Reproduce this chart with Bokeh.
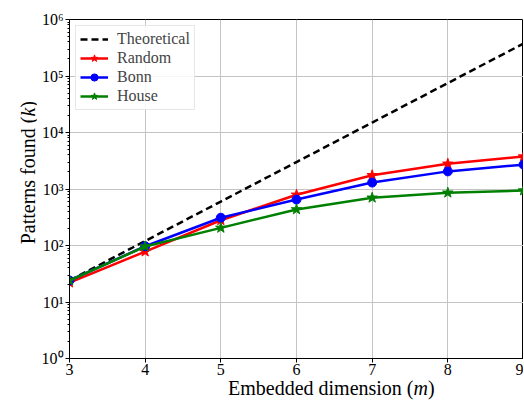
from bokeh.plotting import figure
from bokeh.models import FixedTicker, Legend, LegendItem, Div
from bokeh.layouts import row, column
from bokeh.embed import file_html
from bokeh.resources import INLINE

# ---- data ----
m_values = [3, 4, 5, 6, 7, 8, 9]
theoretical = [24, 120, 600, 3000, 15000, 75000, 375000]
random_k = [22, 78, 280, 790, 1750, 2800, 3750]
bonn_k = [24, 97, 310, 650, 1300, 2050, 2700]
house_k = [24, 96, 205, 435, 700, 860, 940]

x_ticks = [3, 4, 5, 6, 7, 8, 9]
y_ticks = [1, 10, 100, 1000, 10000, 100000, 1000000]
y_tick_labels = ["10⁰", "10¹", "10²", "10³", "10⁴", "10⁵", "10⁶"]

FONT = "Liberation Serif"

p = figure(width=487, height=382, y_axis_type="log",
           x_range=(3, 9), y_range=(1, 1e6),
           output_backend="svg", toolbar_location=None, title=None,
           min_border_left=33, min_border_right=0,
           min_border_top=19, min_border_bottom=24)

p.background_fill_color = "white"
p.border_fill_color = "white"
p.outline_line_color = "black"
p.outline_line_width = 1

# axes
minor = [k * d for d in y_ticks[:-1] for k in range(2, 10)]
p.yaxis.ticker = FixedTicker(ticks=y_ticks, minor_ticks=minor)
p.xaxis.ticker = FixedTicker(ticks=x_ticks)
p.yaxis.major_label_overrides = {float(t): lab for t, lab in zip(y_ticks, y_tick_labels)}

for ax in (p.xaxis[0], p.yaxis[0]):
    ax.axis_line_color = "black"
    ax.major_tick_line_color = "black"
    ax.minor_tick_line_color = "black"
    ax.major_tick_in = 0
    ax.major_tick_out = 4
    ax.minor_tick_in = 0
    ax.minor_tick_out = 2
    ax.major_label_text_font = FONT
    ax.major_label_text_font_size = "16px"
    ax.major_label_text_color = "black"
    ax.major_label_standoff = 2
p.xaxis.minor_tick_out = 0
p.xaxis.major_label_standoff = 1

p.xgrid.ticker = FixedTicker(ticks=x_ticks)
p.ygrid.ticker = FixedTicker(ticks=y_ticks)
p.grid.grid_line_color = "#c4c4c4"
p.grid.grid_line_width = 1

# lines
r_t = p.line(m_values, theoretical, line_color="black", line_width=2.5, line_dash="7 4")
r_rl = p.line(m_values, random_k, line_color="red", line_width=2.5)
r_rs = p.scatter(m_values, random_k, marker="star", size=11, color="red")
r_bl = p.line(m_values, bonn_k, line_color="blue", line_width=2.5)
r_bs = p.scatter(m_values, bonn_k, marker="circle", size=9, color="blue")
r_hl = p.line(m_values, house_k, line_color="green", line_width=2.5)
r_hs = p.scatter(m_values, house_k, marker="star", size=11, color="green")

legend = Legend(items=[
    LegendItem(label="Theoretical", renderers=[r_t]),
    LegendItem(label="Random", renderers=[r_rl, r_rs]),
    LegendItem(label="Bonn", renderers=[r_bl, r_bs]),
    LegendItem(label="House", renderers=[r_hl, r_hs]),
], location="top_left")
legend.label_text_font = FONT
legend.label_text_font_size = "16px"
legend.label_height = 18
legend.glyph_height = 18
legend.glyph_width = 28
legend.label_standoff = 9
legend.spacing = 1
legend.padding = 4
legend.margin = 6
legend.border_line_color = "#d0d0d0"
legend.border_line_width = 1
legend.background_fill_alpha = 0.85
p.add_layout(legend)

# axis titles (with italic symbols) as HTML text
font_css = "font-family:'Liberation Serif',serif;font-size:20px;line-height:1;color:black;white-space:nowrap;"
y_label = Div(
    text=("<div style=\"" + font_css +
          "writing-mode:vertical-rl;transform:rotate(180deg);margin-left:18px;margin-top:101px;\">"
          "Patterns found (<i>k</i>)</div>"),
    width=36, height=400, margin=0)
x_label = Div(
    text=("<div style=\"" + font_css + "margin-left:192px;margin-top:-4px;\">"
          "Embedded dimension (<i>m</i>)</div>"),
    width=487, height=18, margin=0)

layout = row(y_label, column(p, x_label, spacing=0), spacing=0)

open("out.html", "w").write(file_html(layout, INLINE))
